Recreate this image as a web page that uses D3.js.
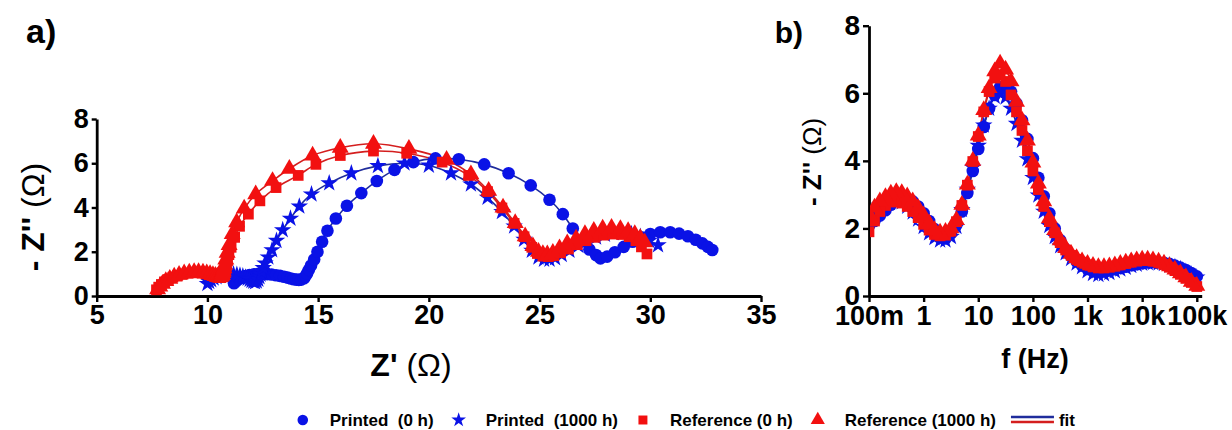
<!DOCTYPE html>
<html><head><meta charset="utf-8">
<script src="https://cdn.jsdelivr.net/npm/d3@7"></script>
<style>html,body{margin:0;padding:0;background:#fff;} svg{display:block;}</style>
</head><body>
<svg id="c" width="1232" height="430"></svg>
<script>
// ---------------- DATA ----------------
const freqHz = [100000,79400,63100,50100,39800,31600,25100,20000,15800,12600,10000,
  7940,6310,5010,3980,3160,2510,2000,1580,1260,1000,
  794,631,501,398,316,251,200,158,126,100,
  79.4,63.1,50.1,39.8,31.6,25.1,20,15.8,12.6,10,
  7.94,6.31,5.01,3.98,3.16,2.51,2,1.58,1.26,1,
  0.794,0.631,0.501,0.398,0.316,0.251,0.2,0.158,0.126,0.1];

// Printed (0 h) : Z' and -Z''
const printed0hRe = [11.2,11.3,11.42,11.56,11.72,11.9,12.1,12.3,12.5,12.7,12.9,13.1,13.28,13.46,13.62,13.77,13.9,14.02,14.13,14.23,
  14.36,14.43,14.5,14.58,14.68,14.82,14.97,15.18,15.42,15.8,
  16.3,16.95,17.65,18.45,19.3,20.3,21.35,22.5,23.6,24.6,
  25.45,26.05,26.5,26.9,27.25,27.55,27.75,28.05,28.4,28.8,
  29.2,29.6,30.0,30.45,30.9,31.3,31.7,32.05,32.35,32.6,32.8];
const printed0hIm = [0.58,0.68,0.77,0.84,0.9,0.95,0.98,1.0,1.0,0.99,0.97,0.94,0.91,0.87,0.83,0.79,0.76,0.74,0.73,0.74,
  0.8,0.9,1.02,1.18,1.38,1.65,2.0,2.45,2.95,3.5,
  4.08,4.65,5.2,5.7,6.05,6.22,6.18,5.95,5.55,5.0,
  4.35,3.7,3.05,2.5,2.1,1.85,1.7,1.78,1.98,2.22,
  2.45,2.65,2.8,2.88,2.88,2.82,2.7,2.54,2.38,2.22,2.08];

// Printed (1000 h)
const printed1000hRe = [10.0,10.08,10.17,10.28,10.41,10.55,10.7,10.86,11.02,11.18,11.33,11.47,11.6,11.72,11.82,11.91,11.99,12.07,12.15,12.23,
  12.3,12.35,12.4,12.45,12.52,12.6,12.75,12.92,13.12,13.4,
  13.75,14.15,14.7,15.5,16.5,17.7,18.9,20.0,21.0,21.9,
  22.65,23.3,23.85,24.3,24.65,24.95,25.2,25.45,25.7,26.0,
  26.35,26.75,27.15,27.55,27.95,28.35,28.75,29.15,29.55,29.95,30.35];
const printed1000hIm = [0.55,0.64,0.72,0.8,0.86,0.91,0.95,0.97,0.98,0.98,0.96,0.93,0.89,0.84,0.79,0.74,0.69,0.65,0.63,0.66,
  0.74,0.86,0.97,1.1,1.27,1.48,1.75,2.08,2.5,2.98,
  3.5,4.05,4.6,5.1,5.55,5.88,6.0,5.9,5.55,5.05,
  4.45,3.8,3.15,2.55,2.05,1.75,1.65,1.65,1.72,1.86,
  2.05,2.27,2.48,2.65,2.78,2.85,2.86,2.8,2.68,2.5,2.3];

// Reference (0 h)
const reference0hRe = [7.7,7.8,7.92,8.06,8.24,8.44,8.66,8.9,9.13,9.35,9.56,9.76,9.93,10.08,10.21,10.33,10.43,10.52,10.6,10.67,
  10.74,10.78,10.8,10.83,10.86,10.91,10.97,11.07,11.23,11.45,
  11.85,12.37,13.1,14.1,14.9,16.0,17.5,19.0,20.6,21.8,
  22.65,23.3,23.85,24.3,24.65,24.9,25.15,25.4,25.65,25.95,
  26.3,26.7,27.1,27.5,27.9,28.3,28.7,29.05,29.35,29.6,29.85];
const reference0hIm = [0.28,0.4,0.52,0.64,0.75,0.85,0.93,0.99,1.03,1.05,1.05,1.03,1.0,0.96,0.92,0.88,0.85,0.83,0.83,0.86,
  0.92,1.0,1.08,1.2,1.36,1.58,1.87,2.2,2.65,3.15,
  3.7,4.3,4.9,5.45,5.95,6.35,6.55,6.45,6.05,5.45,
  4.72,3.98,3.28,2.68,2.2,1.92,1.8,1.78,1.82,1.95,
  2.12,2.32,2.5,2.65,2.75,2.8,2.78,2.68,2.5,2.22,1.9];

// Reference (1000 h)
const reference1000hRe = [7.75,7.85,7.97,8.12,8.3,8.5,8.72,8.95,9.18,9.4,9.6,9.8,9.97,10.12,10.25,10.36,10.45,10.53,10.58,10.63,
  10.68,10.7,10.72,10.75,10.78,10.83,10.89,10.98,11.12,11.32,
  11.66,12.18,12.94,13.7,14.75,16.0,17.5,19.1,20.8,21.9,
  22.7,23.35,23.9,24.35,24.7,24.95,25.15,25.35,25.6,25.9,
  26.25,26.65,27.05,27.45,27.85,28.25,28.65,29.0,29.3,29.55,29.75];
const reference1000hIm = [0.3,0.42,0.55,0.67,0.78,0.88,0.96,1.02,1.06,1.08,1.08,1.06,1.03,0.99,0.95,0.91,0.88,0.86,0.86,0.89,
  0.95,1.03,1.12,1.25,1.42,1.65,1.95,2.3,2.8,3.33,
  3.95,4.6,5.2,5.75,6.35,6.7,6.88,6.65,6.15,5.5,
  4.75,4.0,3.3,2.7,2.25,2.0,1.9,1.88,1.95,2.15,
  2.38,2.6,2.8,2.95,3.05,3.08,3.03,2.93,2.8,2.62,2.42];

const seriesNames = ["Printed\u00a0 (0 h)", "Printed\u00a0 (1000 h)", "Reference (0 h)", "Reference (1000 h)"];
const nyqXTicks = [5,10,15,20,25,30,35];
const nyqYTicks = [0,2,4,6,8];
const bodeXTicks = [0.1,1,10,100,1000,10000,100000];
const bodeXTickLabels = ["100m","1","10","100","1k","10k","100k"];
const bodeYTicks = [0,2,4,6,8];

// ---------------- DRAW ----------------
const BLUE = "#0a12e6", RED = "#f21010";
const FITBLUE = "#1f2c9c", FITRED = "#d41e1e";
const FONT = "'Liberation Sans', Arial, sans-serif";
const svg = d3.select("#c");

const series = [
  {re: printed0hRe, im: printed0hIm, shape: d3.symbolCircle, size: 125, color: BLUE, fit: FITBLUE},
  {re: printed1000hRe, im: printed1000hIm, shape: d3.symbolStar, size: 95, color: BLUE, fit: FITBLUE},
  {re: reference0hRe, im: reference0hIm, shape: d3.symbolSquare, size: 115, color: RED, fit: FITRED},
  {re: reference1000hRe, im: reference1000hIm, shape: d3.symbolTriangle, size: 125, color: RED, fit: FITRED}
];
series.forEach((s, i) => {
  s.name = seriesNames[i];
  s.pts = freqHz.map((f, k) => ({f: f, re: s.re[k], im: s.im[k]}));
});

// scales
const xa = d3.scaleLinear().domain([5, 35]).range([96.7, 761]);
const ya = d3.scaleLinear().domain([0, 8]).range([296, 119]);
const xb = d3.scaleLog().domain([0.1, 123000]).range([869, 1201.7]);
const yb = d3.scaleLinear().domain([0, 8]).range([296, 25.7]);

function styleAxis(g, fs) {
  g.select(".domain").attr("stroke", "#000").attr("stroke-width", 2.8);
  g.selectAll(".tick line").attr("stroke", "#000").attr("stroke-width", 2.4);
  g.selectAll(".tick text").attr("font-family", FONT).attr("font-weight", "bold")
    .attr("font-size", fs).attr("fill", "#000");
}

// ---- Panel a axes
const gxa = svg.append("g").attr("transform", "translate(0,296)")
  .call(d3.axisBottom(xa).tickValues(nyqXTicks).tickSize(6).tickSizeOuter(0).tickPadding(3).tickFormat(d3.format("d")));
styleAxis(gxa, 27);
const gya = svg.append("g").attr("transform", "translate(96.7,0)")
  .call(d3.axisLeft(ya).tickValues(nyqYTicks).tickSize(5).tickSizeOuter(0).tickPadding(3).tickFormat(d3.format("d")));
styleAxis(gya, 27);

// ---- Panel b axes
const gxb = svg.append("g").attr("transform", "translate(0,296)")
  .call(d3.axisBottom(xb).tickValues(bodeXTicks).tickSize(6).tickSizeOuter(0).tickPadding(4)
    .tickFormat((d, i) => bodeXTickLabels[i]));
styleAxis(gxb, 27);
const gyb = svg.append("g").attr("transform", "translate(869,0)")
  .call(d3.axisLeft(yb).tickValues(bodeYTicks).tickSize(6).tickSizeOuter(0).tickPadding(3).tickFormat(d3.format("d")));
styleAxis(gyb, 28);

// ---- Panel a data
const nyqLine = d3.line().x(d => xa(d.re)).y(d => ya(d.im)).curve(d3.curveCatmullRom);
const ga = svg.append("g");
series.forEach(s => {
  ga.append("path").attr("d", nyqLine(s.pts)).attr("fill", "none")
    .attr("stroke", s.fit).attr("stroke-width", 1.6);
});
series.forEach(s => {
  ga.append("g").selectAll("path").data(s.pts).join("path")
    .attr("d", d3.symbol().type(s.shape).size(s.size))
    .attr("transform", d => `translate(${xa(d.re)},${ya(d.im)})`)
    .attr("fill", s.color);
});

// ---- Panel b data
svg.append("clipPath").attr("id", "clipb").append("rect")
  .attr("x", 870).attr("y", 0).attr("width", 340).attr("height", 296);
const bodeLine = d3.line().x(d => xb(d.f)).y(d => yb(d.im)).curve(d3.curveCatmullRom);
const gb = svg.append("g").attr("clip-path", "url(#clipb)");
series.forEach(s => {
  gb.append("path").attr("d", bodeLine(s.pts)).attr("fill", "none")
    .attr("stroke", s.fit).attr("stroke-width", 1.6);
});
series.forEach(s => {
  gb.append("g").selectAll("path").data(s.pts).join("path")
    .attr("d", d3.symbol().type(s.shape).size(s.size))
    .attr("transform", d => `translate(${xb(d.f)},${yb(d.im)})`)
    .attr("fill", s.color);
});

// ---- Titles
function txt(x, y, size, anchor) {
  return svg.append("text").attr("x", x).attr("y", y).attr("font-family", FONT)
    .attr("font-size", size).attr("font-weight", "bold").attr("text-anchor", anchor || "middle").attr("fill", "#000");
}
txt(26, 43, 34, "start").text("a)");
txt(803, 43, 30, "end").text("b)");

const xta = txt(411, 376, 32);
xta.append("tspan").text("Z' ");
xta.append("tspan").attr("font-weight", "normal").text("(\u03A9)");

const yta = svg.append("text").attr("transform", "translate(44,217) rotate(-90)")
  .attr("font-family", FONT).attr("font-size", 32).attr("font-weight", "bold").attr("text-anchor", "middle");
yta.append("tspan").text("- Z'' ");
yta.append("tspan").attr("font-weight", "normal").text("(\u03A9)");

const ytb = svg.append("text").attr("transform", "translate(821,162) rotate(-90)")
  .attr("font-family", FONT).attr("font-size", 26).attr("font-weight", "bold").attr("text-anchor", "middle");
ytb.append("tspan").text("- Z'' ");
ytb.append("tspan").attr("font-weight", "normal").text("(\u03A9)");

txt(1035, 368, 27).text("f (Hz)");

// ---- Legend
const legY = 426, legFS = 17;
const lg = svg.append("g");
let cursor = 0;
const items = [];
series.forEach(s => {
  const mk = lg.append("path").attr("d", d3.symbol().type(s.shape).size(s.size * 0.7)).attr("fill", s.color);
  const t = lg.append("text").attr("font-family", FONT).attr("font-size", legFS).attr("font-weight", "bold")
    .attr("y", legY).text(s.name);
  items.push({mk, t});
});
const fitG = lg.append("g");
fitG.append("line").attr("x1", 0).attr("x2", 43).attr("y1", 417).attr("y2", 417).attr("stroke", FITBLUE).attr("stroke-width", 2.5);
fitG.append("line").attr("x1", 0).attr("x2", 43).attr("y1", 422).attr("y2", 422).attr("stroke", FITRED).attr("stroke-width", 2.5);
const fitT = lg.append("text").attr("font-family", FONT).attr("font-size", legFS).attr("font-weight", "bold")
  .attr("y", legY).text("fit");
items.forEach((it, i) => {
  it.mx = cursor; cursor += 27;
  it.tx = cursor; cursor += it.t.node().getComputedTextLength();
  cursor += (i < items.length - 1) ? 25 : 15;
});
const fitX = cursor; cursor += 48;
const fitTX = cursor; cursor += fitT.node().getComputedTextLength();
const off = 1075 - cursor;
items.forEach(it => {
  it.mk.attr("transform", `translate(${it.mx + off},${legY - 6})`);
  it.t.attr("x", it.tx + off);
});
fitG.attr("transform", `translate(${fitX + off},0)`);
fitT.attr("x", fitTX + off);
</script>
</body></html>
